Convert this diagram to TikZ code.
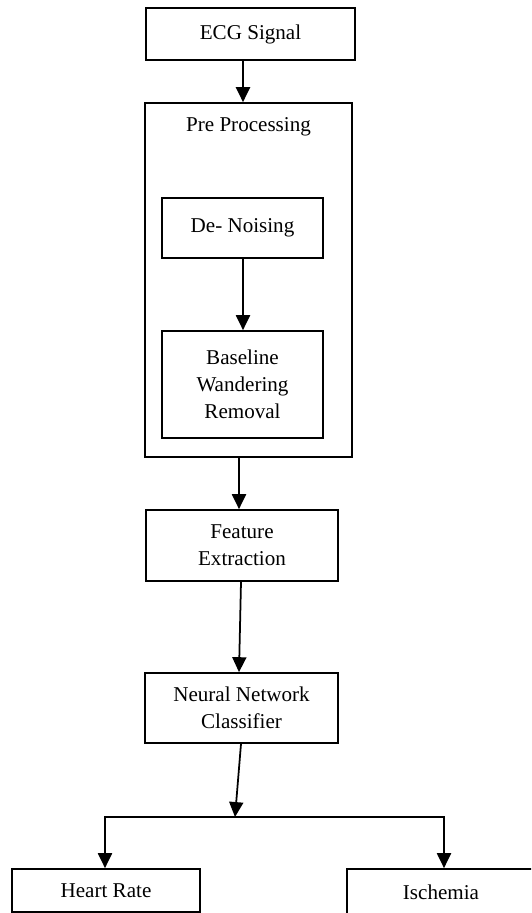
\documentclass[tikz,border=0pt]{standalone}
\usepackage{fontspec}
\setmainfont{Liberation Serif}
\usetikzlibrary{arrows.meta,calc}
\begin{document}
\begin{tikzpicture}[
        x=0.02cm, y=-0.02cm,
        >={Triangle[width=8pt,length=8.5pt]},
        line width=1pt,
        every node/.style={font=\fontsize{12}{15.5}\selectfont},
        block/.style={draw, align=center, inner sep=0pt}
    ]
    % Page frame
    \useasboundingbox (0,0) rectangle (531,913);
    \clip (0,0) rectangle (531,913);

    % Input
    \node[block, minimum width=4.18cm, minimum height=1.04cm] (ecg) at (250.5,34) {ECG Signal};

    % Pre processing stage with its two steps
    \node[block, minimum width=4.14cm, minimum height=7.08cm] (pre) at (248.5,280) {};
    \node (pretitle) at (248.5,127) {Pre Processing};
    \node[block, minimum width=3.22cm, minimum height=1.2cm] (denoise) at (242.5,228) {De- Noising};
    \node[block, minimum width=3.22cm, minimum height=2.14cm] (baseline) at (242.5,384.5)
        {Baseline\\Wandering\\Removal};

    % Features and classifier
    \node[block, minimum width=3.84cm, minimum height=1.42cm] (feature) at (242,545.5)
        {Feature\\Extraction};
    \node[block, minimum width=3.86cm, minimum height=1.4cm] (neural) at (241.5,708)
        {Neural Network\\Classifier};

    % Outputs
    \coordinate (split) at (235,817);
    \node[block, minimum width=3.76cm, minimum height=0.86cm] (heart) at (106,890.5) {Heart Rate};
    \node[block, minimum width=3.76cm, minimum height=0.92cm] (isch) at (441,892) {Ischemia};

    % Arrows
    \draw[->] ($(ecg.south)+(-7.5,0)$) -- ($(pre.north)+(-5.5,0)$);
    \draw[->] ($(denoise.south)+(0.5,0)$) -- ($(baseline.north)+(0.5,0)$);
    \draw[->] ($(pre.south)+(-9.5,0)$) -- ($(feature.north)+(-3,0)$);
    \draw[->] ($(feature.south)+(-1,0)$) -- ($(neural.north)+(-2.5,0)$);
    \draw[->] ($(neural.south)+(-0.5,0)$) -- (split);
    \draw[->] (split) -| ($(heart.north)+(-1,0)$);
    \draw[->] (split) -| ($(isch.north)+(3,0)$);
\end{tikzpicture}
\end{document}
